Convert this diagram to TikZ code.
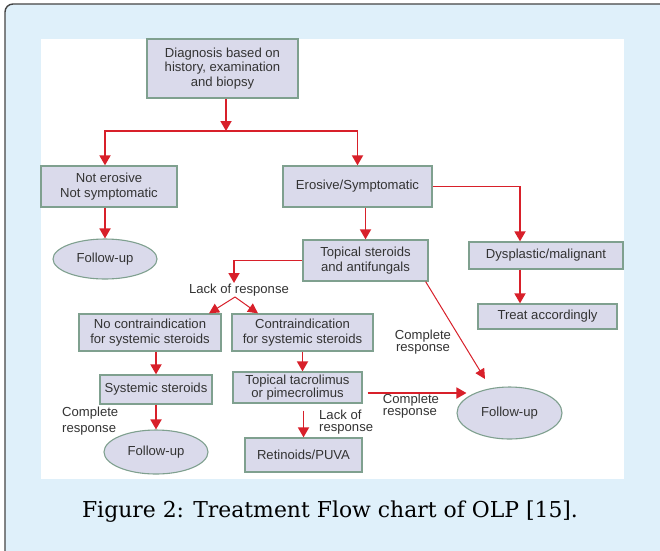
\documentclass[tikz,border=0pt]{standalone}
\usepackage{fontspec}
\setmainfont{Liberation Sans}
\newfontfamily\capfont{DejaVu Serif}
\usetikzlibrary{arrows.meta,shapes.geometric}
\definecolor{bgblue}{HTML}{DFF0FA}
\definecolor{boxfill}{HTML}{DADAEB}
\definecolor{boxline}{HTML}{7FA08F}
\definecolor{redc}{HTML}{D8202A}
\definecolor{txt}{HTML}{333333}
\definecolor{frame}{HTML}{444444}
\begin{document}
\begin{tikzpicture}[x=1pt,y=-1pt,
  box/.style={draw=boxline, fill=boxfill, line width=1.3pt, inner sep=0pt, align=center, text=txt,
    font=\fontsize{13.1}{14.5}\selectfont},
  oval/.style={ellipse, draw=boxline, fill=boxfill, line width=1.1pt, inner sep=0pt, text=txt,
    font=\fontsize{13.1}{14.5}\selectfont},
  arr/.style={draw=redc, line width=1.8pt, -{Triangle[width=11pt,length=10pt]}},
  tarr/.style={draw=redc, line width=1pt, -{Triangle[width=10pt,length=10pt]}},
  lbl/.style={inner sep=0pt, text=txt}]
\useasboundingbox (0,0) rectangle (660,550);
\clip (0,0) rectangle (660,550);
% frame and panels
\fill[white] (0,0) rectangle (660,550);
\draw[frame, fill=bgblue, line width=1.4pt, rounded corners=8pt] (5,4) rectangle (680,570);
\fill[white] (41,39) rectangle (624,479);
% nodes
\node[box, minimum width=151pt, minimum height=59pt] (diag) at (222.5,68.5) {Diagnosis based on\\history, examination\\and biopsy};
\node[box, minimum width=136pt, minimum height=41pt] (noter) at (109,186.5) {Not erosive\\Not symptomatic};
\node[box, minimum width=149pt, minimum height=41pt] (eros) at (357.5,186.5) {Erosive/Symptomatic};
\node[oval, minimum width=104pt, minimum height=40pt] (fu1) at (105,259) {Follow-up};
\node[box, minimum width=125pt, minimum height=41pt] (tops) at (365.5,260.5) {Topical steroids\\and antifungals};
\node[box, minimum width=154pt, minimum height=27pt] (dysp) at (546,255.5) {Dysplastic/malignant};
\node[box, minimum width=139pt, minimum height=25pt] (treat) at (547.5,316.5) {Treat accordingly};
\node[box, minimum width=142pt, minimum height=37pt] (nocon) at (150,332.5) {No contraindication\\for systemic steroids};
\node[box, minimum width=141pt, minimum height=37pt] (con) at (302.5,332.5) {Contraindication\\for systemic steroids};
\node[box, minimum width=112pt, minimum height=29pt] (syst) at (156,389.5) {Systemic steroids};
\node[box, minimum width=129pt, minimum height=31pt, font=\fontsize{13.1}{11}\selectfont] (tac) at (297.5,387.5) {Topical tacrolimus\\or pimecrolimus};
\node[oval, minimum width=104pt, minimum height=44pt] (fu2) at (156,452) {Follow-up};
\node[box, minimum width=117pt, minimum height=34pt] (ret) at (303.5,455) {Retinoids/PUVA};
\node[oval, minimum width=105pt, minimum height=52pt] (fu3) at (509.5,413) {Follow-up};
% labels
\node[lbl, font=\fontsize{13.1}{14}\selectfont] (lack1) at (239,290) {Lack of response};
\node[lbl, align=center, font=\fontsize{13.1}{12.5}\selectfont] (comp1) at (423,342) {Complete\\response};
\node[lbl, align=left, font=\fontsize{13.1}{12.5}\selectfont] (comp2) at (411,406) {Complete\\response};
\node[lbl, align=left, anchor=west, font=\fontsize{13.1}{15.5}\selectfont] (comp3) at (62,421) {Complete\\response};
\node[lbl, align=left, anchor=west, font=\fontsize{13.1}{12.5}\selectfont] (lack2) at (319,422) {Lack of\\response};
% caption
\node[inner sep=0pt, anchor=base, font=\capfont\fontsize{21.9}{24}\selectfont] (cap) at (330,517) {Figure 2: Treatment Flow chart of OLP [15].};
% helper coordinates
\coordinate (split) at (226,131);
\coordinate (dx) at (520,0);
\coordinate (lk) at (234,283);
\coordinate (br) at (235,297);
% connectors
\draw[arr] (diag.south -| split) -- (split);
\draw[arr] (split) -| (fu1.north |- noter.north);
\draw[arr] (split) -| (eros.north);
\draw[arr] (fu1.north |- noter.south) -- (fu1.north);
\draw[arr] (tops.north |- eros.south) -- (tops.north);
\draw[arr] (eros.east) -| (dx |- dysp.north);
\draw[arr] (dx |- dysp.south) -- (dx |- treat.north);
\draw[arr] (tops.west) -| (lk);
\draw[tarr] (br) -- ([xshift=59pt]nocon.north);
\draw[tarr] (br) -- ([xshift=-44.5pt]con.north);
\draw[arr] (syst.north |- nocon.south) -- (syst.north);
\draw[arr] (con.south) -- (con.south |- tac.north);
\draw[arr] (syst.south) -- (fu2.north);
\draw[arr] ([yshift=-7pt]ret.north |- tac.south) -- (ret.north);
\draw[arr] ([shift={(5pt,-5.5pt)}]tac.east) -- ([shift={(10pt,20pt)}]fu3.west);
\draw[tarr] ([xshift=-3pt]tops.south east) -- ([shift={(-24.5pt,34pt)}]fu3.center);
\end{tikzpicture}
\end{document}
